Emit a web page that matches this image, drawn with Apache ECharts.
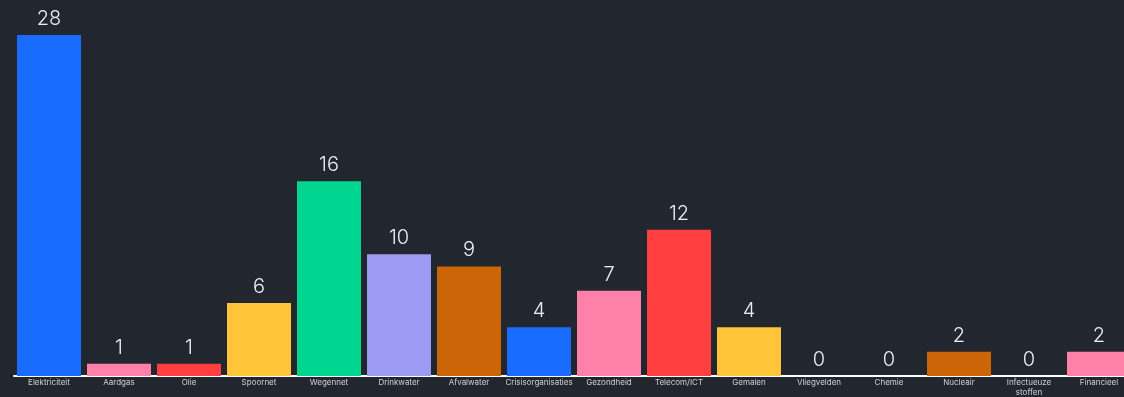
<!DOCTYPE html>
<html>
<head>
<meta charset="utf-8">
<script src="https://cdn.jsdelivr.net/npm/echarts@6/dist/echarts.min.js"></script>
<style>
html,body{margin:0;padding:0;background:#22262f;}
#chart{width:1124px;height:397px;}
</style>
</head>
<body>
<div id="chart"></div>
<script>
const categories = ['Elektriciteit','Aardgas','Olie','Spoornet','Wegennet','Drinkwater','Afvalwater','Crisisorganisaties','Gezondheid','Telecom/ICT','Gemalen','Vliegvelden','Chemie','Nucleair','Infectueuze\nstoffen','Financieel'];
const values = [28,1,1,6,16,10,9,4,7,12,4,0,0,2,0,2];
const colors = ['#1a6bff','#ff80a9','#ff3f3f','#ffc437','#00d68f','#9b9bf4','#cc6508','#1a6bff','#ff80a9','#ff3f3f','#ffc437','#00d68f','#9b9bf4','#cc6508','#ff80a9','#ff80a9'];

const chart = echarts.init(document.getElementById('chart'));
chart.setOption({
  backgroundColor: '#22262f',
  animation: false,
  grid: {left: 14, top: 35, right: -10, bottom: 21, containLabel: false, outerBoundsMode: 'none'},
  xAxis: {
    type: 'category',
    data: categories,
    axisLine: {show: true, lineStyle: {color: '#ffffff', width: 2}},
    axisTick: {show: false},
    axisLabel: {color: '#d0d2d6', fontSize: 8, fontFamily: 'Inter', margin: 2, interval: 0, lineHeight: 10}
  },
  yAxis: {
    type: 'value', min: 0, max: 28, show: false, splitLine: {show: false}
  },
  series: [{
    type: 'bar',
    barWidth: 64,
    data: values.map((v, i) => ({value: v, itemStyle: {color: colors[i]}})),
    label: {show: true, position: 'top', color: '#eceef2', fontSize: 20, fontFamily: 'Inter', fontWeight: 300, distance: 6}
  }]
});
</script>
</body>
</html>
